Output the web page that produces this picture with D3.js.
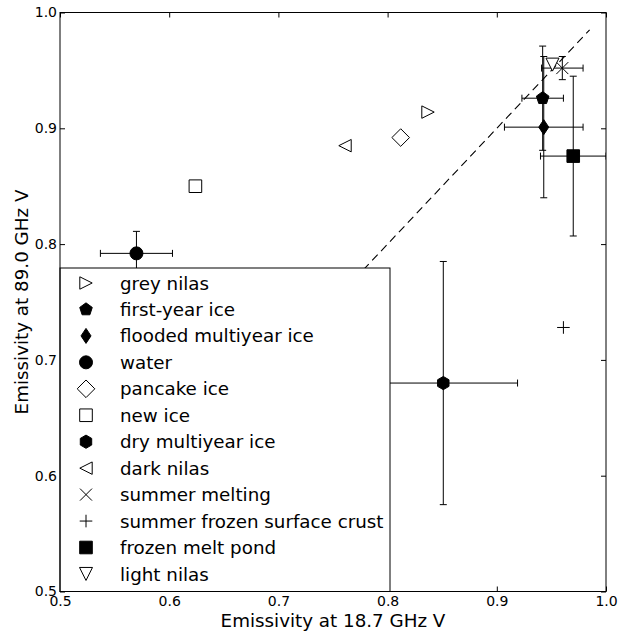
<!DOCTYPE html>
<html>
<head>
<meta charset="utf-8">
<script src="https://cdn.jsdelivr.net/npm/d3@7"></script>
<style>
  html, body { margin: 0; padding: 0; background: #fff; }
  svg { display: block; font-family: "DejaVu Sans", sans-serif; }
</style>
</head>
<body>
<div id="chart"></div>
<script>
// Sea ice types: emissivities at 18.7 GHz V and 89.0 GHz V
const categories = ['grey nilas', 'first-year ice', 'flooded multiyear ice', 'water', 'pancake ice', 'new ice',
  'dry multiyear ice', 'dark nilas', 'summer melting', 'summer frozen surface crust', 'frozen melt pond', 'light nilas'];
const markers = ['triangleRight', 'pentagon', 'thinDiamond', 'circle', 'diamond', 'square',
  'hexagon', 'triangleLeft', 'cross', 'plus', 'square', 'triangleDown'];
const filled = [false, true, true, true, false, false, true, false, false, false, true, false];
const emis18 = [0.837, 0.942, 0.943, 0.570, 0.812, 0.624, 0.851, 0.761, 0.960, 0.961, 0.970, 0.951];
const emis89 = [0.914, 0.926, 0.901, 0.792, 0.892, 0.850, 0.680, 0.885, 0.952, 0.728, 0.876, 0.955];
const err18 = [null, 0.019, 0.036, 0.033, null, null, 0.068, null, 0.019, null, 0.030, null];
const err89 = [null, 0.045, 0.061, 0.019, null, null, 0.105, null, 0.010, null, 0.069, null];
const tickValues = [0.5, 0.6, 0.7, 0.8, 0.9, 1.0];
const diagonal = [0.5, 0.985]; // 1:1 reference line

const width = 621;
const height = 635;
const margin = {top: 12.5, right: 15, bottom: 43.5, left: 60};
const plotW = width - margin.left - margin.right;
const plotH = height - margin.top - margin.bottom;
const labelSize = 18.3;

const x = d3.scaleLinear().domain([0.5, 1.0]).range([0, plotW]);
const y = d3.scaleLinear().domain([0.5, 1.0]).range([plotH, 0]);

// marker outline centred on (0, 0)
function markerPath (shape) {
  const poly = (n, r, rot) => d3.range(n).map((i) => {
    const a = rot + i * 2 * Math.PI / n;
    return [r * Math.sin(a), -r * Math.cos(a)];
  });
  const closed = (pts) => 'M' + pts.map((p) => p.join(',')).join('L') + 'Z';
  switch (shape) {
    case 'triangleRight': return closed([[-6.2, -6.2], [6.2, 0], [-6.2, 6.2]]);
    case 'triangleLeft': return closed([[6.2, -6.2], [-6.2, 0], [6.2, 6.2]]);
    case 'triangleDown': return closed([[-6.5, -6.5], [6.5, -6.5], [0, 6.5]]);
    case 'pentagon': return closed(poly(5, 6.6, 0));
    case 'hexagon': return closed(poly(6, 6.6, 0));
    case 'thinDiamond': return closed([[0, -7.5], [5, 0], [0, 7.5], [-5, 0]]);
    case 'diamond': return closed([[0, -8.8], [8.8, 0], [0, 8.8], [-8.8, 0]]);
    case 'square': return closed([[-6.3, -6.3], [6.3, -6.3], [6.3, 6.3], [-6.3, 6.3]]);
    case 'circle': return 'M6.5,0A6.5,6.5 0 1,1 -6.5,0A6.5,6.5 0 1,1 6.5,0Z';
    case 'cross': return 'M-6,-6L6,6M-6,6L6,-6';
    case 'plus': return 'M-6.3,0L6.3,0M0,-6.3L0,6.3';
  }
  return '';
}

function styleMarker (sel, i) {
  const open = markers[i] === 'cross' || markers[i] === 'plus';
  sel.attr('d', markerPath(markers[i]))
    .attr('fill', filled[i] ? '#000' : (open ? 'none' : '#fff'))
    .attr('stroke', '#000')
    .attr('stroke-width', 1)
    .attr('stroke-linejoin', 'miter');
}

const svg = d3.select('#chart')
  .append('svg')
  .attr('width', width)
  .attr('height', height);

const g = svg.append('g')
  .attr('transform', 'translate(' + margin.left + ',' + margin.top + ')');

g.append('clipPath')
  .attr('id', 'plot-clip')
  .append('rect')
  .attr('width', plotW)
  .attr('height', plotH);

const plot = g.append('g').attr('clip-path', 'url(#plot-clip)');

// dashed 1:1 line
plot.append('line')
  .attr('x1', x(diagonal[0])).attr('y1', y(diagonal[0]))
  .attr('x2', x(diagonal[1])).attr('y2', y(diagonal[1]))
  .attr('stroke', '#000')
  .attr('stroke-width', 1.1)
  .attr('stroke-dasharray', '8,5');

const cap = 3.5;
categories.forEach((name, i) => {
  const cx = x(emis18[i]);
  const cy = y(emis89[i]);
  const bars = plot.append('g')
    .attr('stroke', '#000')
    .attr('stroke-width', 1)
    .attr('fill', 'none');

  if (err18[i] !== null) {
    const x0 = x(emis18[i] - err18[i]);
    const x1 = x(emis18[i] + err18[i]);
    bars.append('path').attr('d', 'M' + x0 + ',' + cy + 'H' + x1);
    bars.append('path').attr('d', 'M' + x0 + ',' + (cy - cap) + 'V' + (cy + cap));
    bars.append('path').attr('d', 'M' + x1 + ',' + (cy - cap) + 'V' + (cy + cap));
  }
  if (err89[i] !== null) {
    const y0 = y(emis89[i] - err89[i]);
    const y1 = y(emis89[i] + err89[i]);
    bars.append('path').attr('d', 'M' + cx + ',' + y0 + 'V' + y1);
    bars.append('path').attr('d', 'M' + (cx - cap) + ',' + y0 + 'H' + (cx + cap));
    bars.append('path').attr('d', 'M' + (cx - cap) + ',' + y1 + 'H' + (cx + cap));
  }

  plot.append('path')
    .attr('transform', 'translate(' + cx + ',' + cy + ')')
    .call(styleMarker, i);
});

// axes: inward ticks on all four sides
const fmt = d3.format('.1f');
const axisText = (sel) => {
  sel.select('.domain').remove();
  sel.selectAll('text').attr('font-size', 14).attr('fill', '#000').attr('font-family', 'DejaVu Sans, sans-serif');
  sel.selectAll('line').attr('stroke', '#000');
};

g.append('g')
  .attr('transform', 'translate(0,' + plotH + ')')
  .call(d3.axisBottom(x).tickValues(tickValues).tickSize(-5).tickPadding(5).tickFormat(fmt))
  .call(axisText);
g.append('g')
  .call(d3.axisLeft(y).tickValues(tickValues).tickSize(-5).tickPadding(3).tickFormat(fmt))
  .call(axisText);
g.append('g')
  .call(d3.axisTop(x).tickValues(tickValues).tickSize(-5).tickFormat(''))
  .call(axisText);
g.append('g')
  .attr('transform', 'translate(' + plotW + ',0)')
  .call(d3.axisRight(y).tickValues(tickValues).tickSize(-5).tickFormat(''))
  .call(axisText);

// legend (drawn over the data, lower left)
const legendW = 330;
const legendTop = 255.5;
const rowH = 26.45;
const legend = g.append('g');
legend.append('rect')
  .attr('x', 0)
  .attr('y', legendTop)
  .attr('width', legendW)
  .attr('height', plotH - legendTop)
  .attr('fill', '#fff')
  .attr('stroke', '#000')
  .attr('stroke-width', 1);

const rows = legend.selectAll('g.row')
  .data(categories)
  .enter()
  .append('g')
  .attr('class', 'row')
  .attr('transform', (d, i) => 'translate(0,' + (legendTop + 15 + i * rowH) + ')');

rows.append('path')
  .attr('transform', 'translate(26,0)')
  .each(function (d, i) { d3.select(this).call(styleMarker, i); });

rows.append('text')
  .attr('x', 60)
  .attr('dy', '0.36em')
  .attr('font-size', labelSize)
  .text((d) => d);

// frame
g.append('rect')
  .attr('width', plotW)
  .attr('height', plotH)
  .attr('fill', 'none')
  .attr('stroke', '#000')
  .attr('stroke-width', 1);

// axis titles
svg.append('text')
  .attr('x', margin.left + plotW / 2)
  .attr('y', 627)
  .attr('text-anchor', 'middle')
  .attr('font-size', labelSize)
  .text('Emissivity at 18.7 GHz V');

svg.append('text')
  .attr('transform', 'translate(28,' + (margin.top + plotH / 2) + ') rotate(-90)')
  .attr('text-anchor', 'middle')
  .attr('font-size', labelSize)
  .text('Emissivity at 89.0 GHz V');
</script>
</body>
</html>
